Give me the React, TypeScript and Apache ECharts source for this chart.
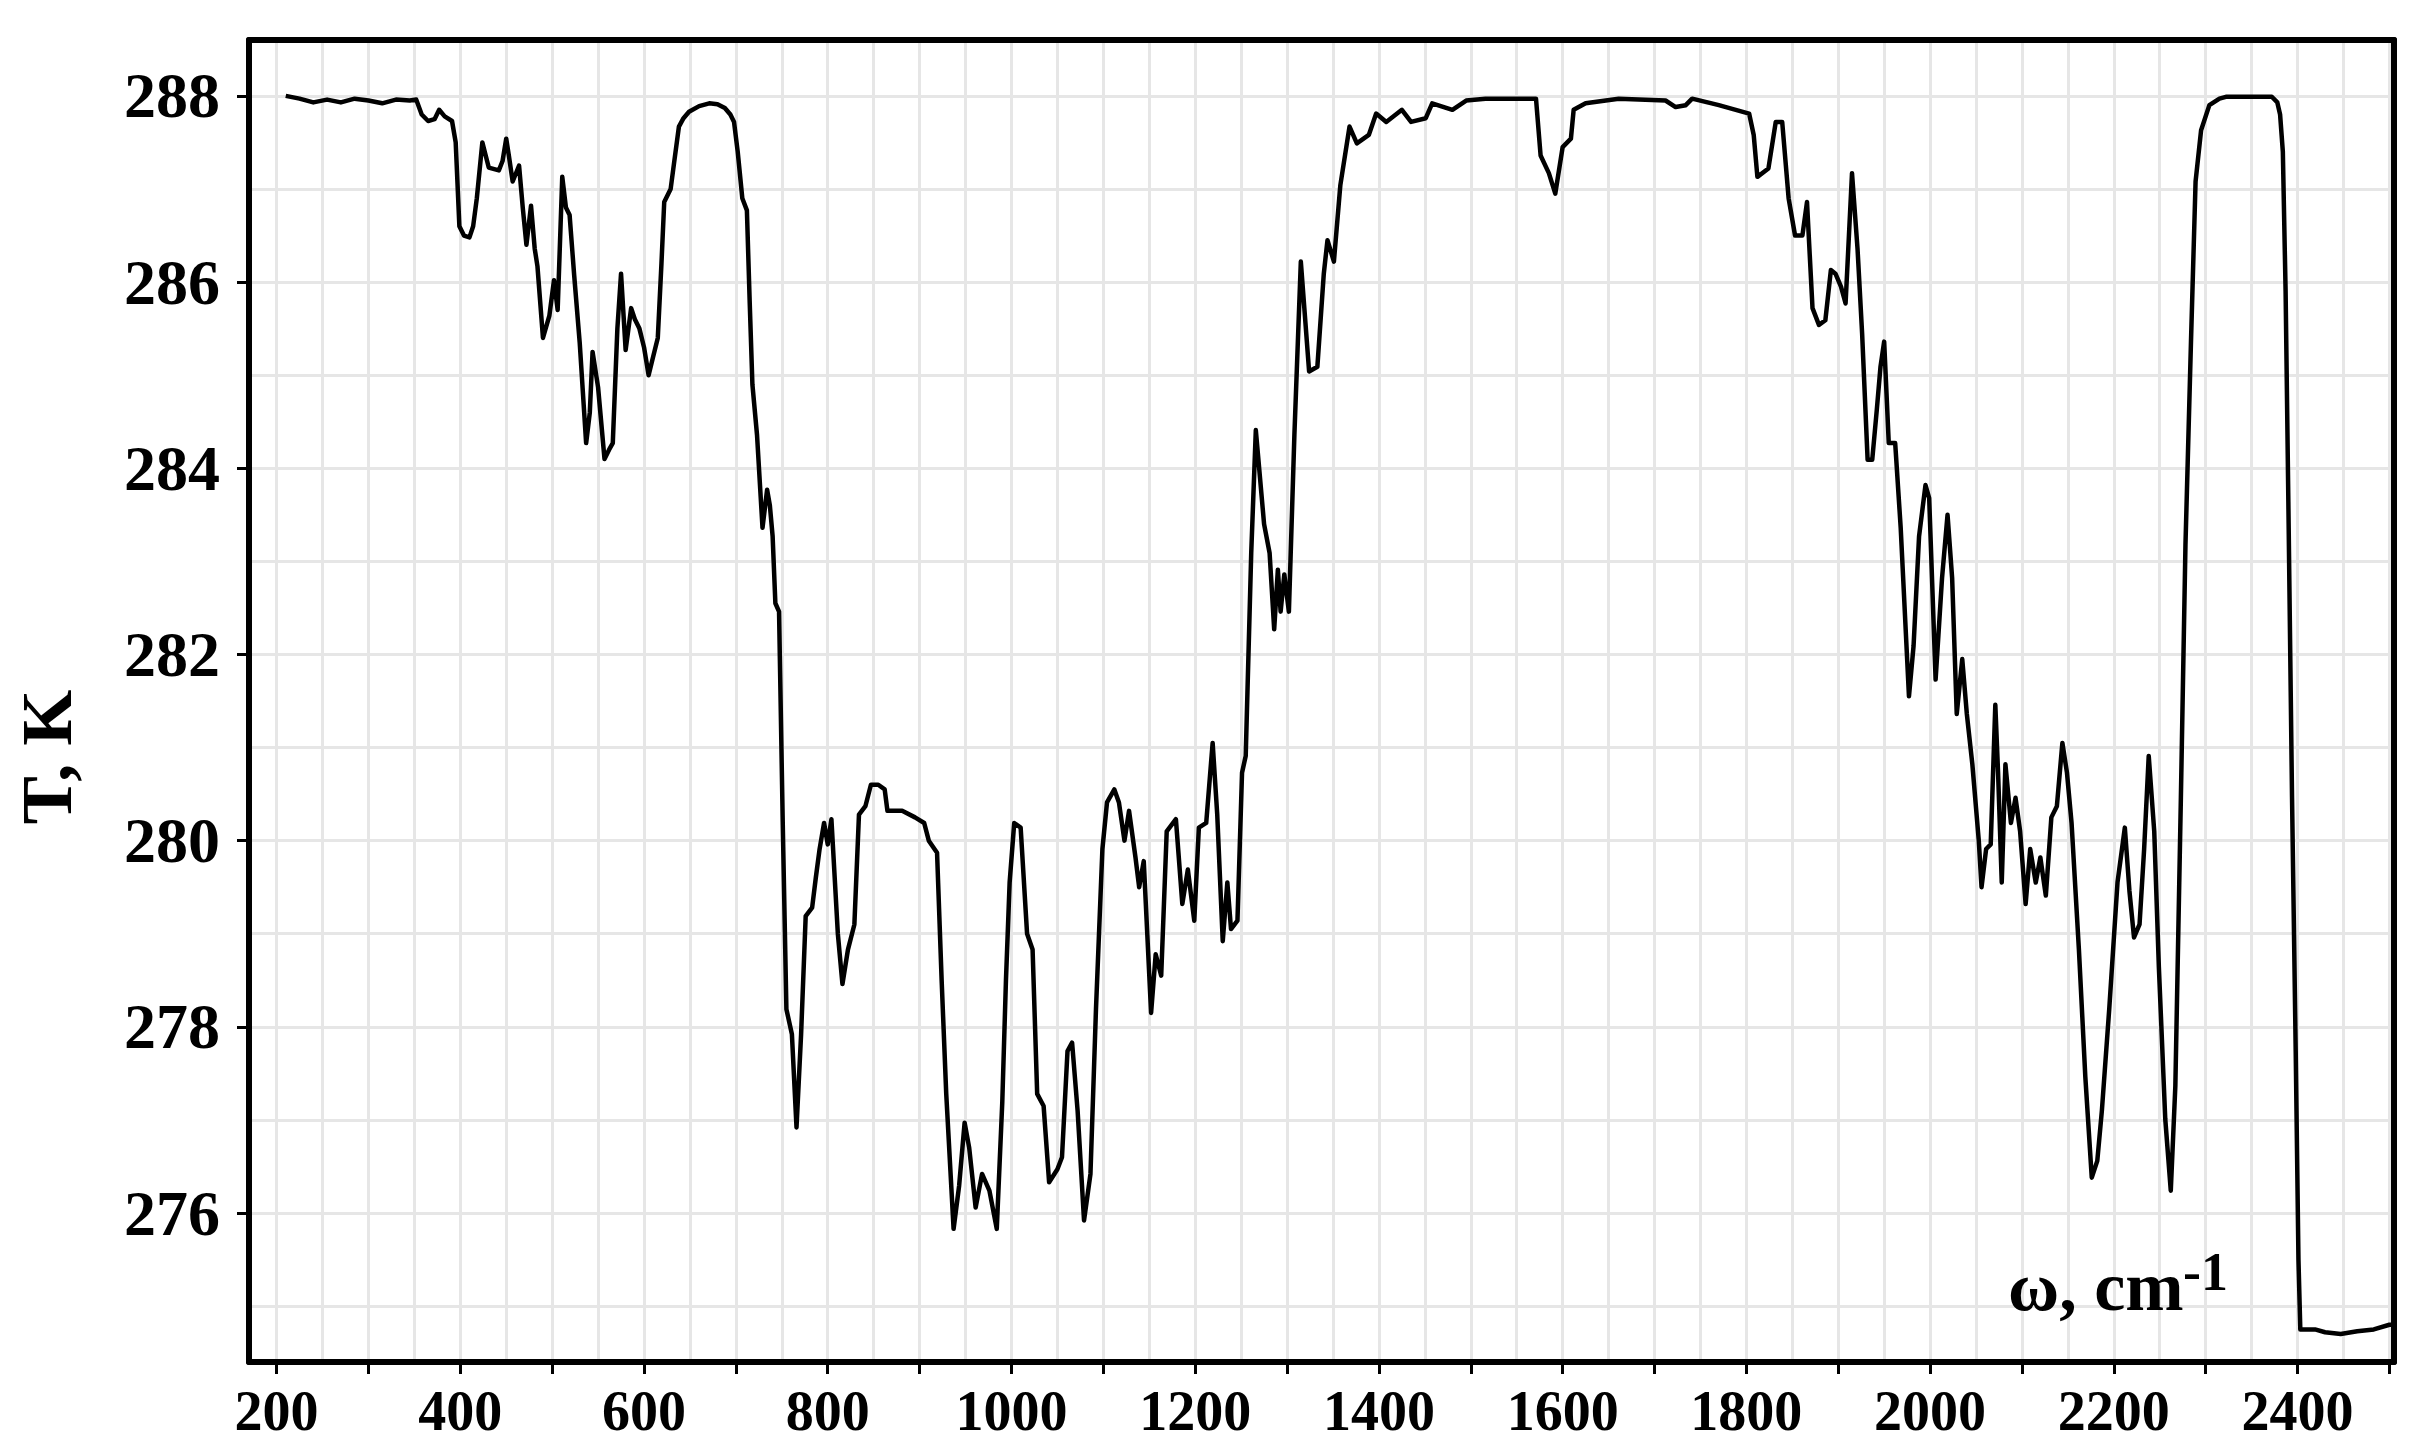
import React, { useEffect, useRef } from "react";
import * as echarts from "echarts";

// Wavenumber (cm^-1) and temperature (K), in four spectral regions
const WN_A = [210, 225, 240, 255, 270, 285, 300, 315, 330, 345, 352, 358, 365, 372, 377, 383, 391, 395, 399, 404, 410, 414, 418, 424, 431, 442, 446, 450, 453, 457, 464, 468, 472, 477, 481, 484, 490, 497, 502, 506, 511, 515, 519, 524, 530, 537, 541, 544, 550, 557, 562, 566, 571, 575, 580, 586, 590, 595, 600, 605, 610, 615, 619, 622, 629, 633, 638, 643, 649, 660, 671, 680, 688, 694, 698];
const T_A = [288.0, 287.97, 287.93, 287.96, 287.93, 287.97, 287.95, 287.92, 287.96, 287.95, 287.96, 287.8, 287.73, 287.75, 287.85, 287.78, 287.73, 287.5, 286.6, 286.5, 286.48, 286.6, 286.9, 287.5, 287.23, 287.2, 287.3, 287.54, 287.35, 287.08, 287.25, 286.8, 286.4, 286.82, 286.36, 286.17, 285.4, 285.64, 286.02, 285.7, 287.13, 286.8, 286.72, 286.07, 285.35, 284.27, 284.6, 285.25, 284.87, 284.1, 284.2, 284.27, 285.5, 286.09, 285.27, 285.72, 285.6, 285.5, 285.3, 285.0, 285.2, 285.4, 286.2, 286.86, 287.0, 287.3, 287.67, 287.76, 287.83, 287.89, 287.92, 287.91, 287.87, 287.8, 287.72];

const WN_B = [702, 707, 712, 715, 718, 723, 729, 734, 737, 740, 743, 747, 751, 755, 761, 766, 771, 776, 783, 787, 791, 796, 800, 804, 811, 816, 822, 829, 834, 841, 847, 855, 862, 865, 881, 895, 905, 910, 919, 924, 929, 937, 943, 949, 954, 961, 968, 976, 984, 990, 994, 998, 1003, 1010, 1017, 1023, 1028, 1035, 1041, 1050, 1055, 1061, 1066, 1072, 1079, 1086, 1092, 1099, 1104, 1112, 1117, 1123, 1128, 1135, 1139, 1144, 1152, 1157, 1163, 1169, 1179, 1186, 1192, 1199, 1204, 1212, 1219, 1224, 1230, 1235, 1239, 1246, 1251, 1255, 1261, 1266, 1275, 1281, 1286, 1290, 1293, 1297, 1302, 1308, 1315];
const T_B = [287.4, 286.9, 286.77, 285.8, 284.9, 284.36, 283.36, 283.77, 283.6, 283.27, 282.55, 282.46, 280.2, 278.19, 277.92, 276.92, 277.92, 279.19, 279.28, 279.6, 279.9, 280.19, 279.96, 280.23, 279.0, 278.46, 278.83, 279.1, 280.28, 280.37, 280.6, 280.6, 280.55, 280.32, 280.32, 280.25, 280.19, 280.0, 279.87, 278.5, 277.28, 275.83, 276.29, 276.97, 276.7, 276.06, 276.42, 276.24, 275.83, 277.19, 278.5, 279.55, 280.19, 280.14, 279.0, 278.83, 277.28, 277.15, 276.33, 276.47, 276.6, 277.74, 277.83, 277.1, 275.92, 276.42, 278.19, 279.91, 280.41, 280.55, 280.41, 280.0, 280.32, 279.82, 279.5, 279.78, 278.15, 278.78, 278.55, 280.1, 280.23, 279.32, 279.69, 279.14, 280.14, 280.19, 281.05, 280.28, 278.92, 279.55, 279.05, 279.14, 280.73, 280.91, 283.09, 284.41, 283.4, 283.09, 282.27, 282.91, 282.46, 282.86, 282.46, 284.36, 286.22];

const WN_C = [1324, 1333, 1340, 1344, 1351, 1358, 1368, 1376, 1389, 1397, 1408, 1425, 1435, 1451, 1458, 1480, 1495, 1516, 1571, 1576, 1585, 1592, 1600, 1609, 1612, 1625, 1661, 1712, 1723, 1734, 1741, 1770, 1803, 1808, 1812, 1824, 1832, 1839, 1846, 1853, 1861, 1866, 1872, 1879, 1886, 1892, 1897, 1903, 1908, 1915, 1921, 1926, 1932, 1937, 1942, 1946, 1950, 1955, 1962, 1968];
const T_C = [285.04, 285.09, 286.09, 286.45, 286.22, 287.04, 287.67, 287.49, 287.58, 287.81, 287.72, 287.85, 287.72, 287.76, 287.92, 287.85, 287.95, 287.97, 287.97, 287.36, 287.17, 286.95, 287.45, 287.54, 287.85, 287.92, 287.97, 287.95, 287.88, 287.9, 287.97, 287.9, 287.81, 287.58, 287.13, 287.22, 287.72, 287.72, 286.9, 286.5, 286.5, 286.86, 285.72, 285.54, 285.59, 286.13, 286.09, 285.95, 285.77, 287.17, 286.36, 285.45, 284.09, 284.09, 284.63, 285.09, 285.36, 284.27, 284.27, 283.36];

const WN_D = [1977, 1982, 1988, 1995, 1999, 2006, 2013, 2019, 2024, 2029, 2035, 2040, 2046, 2053, 2056, 2061, 2066, 2071, 2074, 2078, 2082, 2088, 2093, 2098, 2104, 2109, 2115, 2120, 2126, 2132, 2138, 2144, 2149, 2154, 2162, 2169, 2176, 2182, 2187, 2195, 2204, 2212, 2217, 2222, 2228, 2233, 2238, 2244, 2249, 2256, 2262, 2267, 2273, 2278, 2284, 2289, 2295, 2304, 2315, 2322, 2372, 2378, 2381, 2384, 2387, 2390, 2394, 2398, 2401, 2403, 2419, 2430, 2447, 2465, 2483, 2500, 2505];
const T_D = [281.55, 282.09, 283.27, 283.82, 283.68, 281.73, 282.82, 283.5, 282.82, 281.36, 281.95, 281.36, 280.82, 280.0, 279.5, 279.91, 279.96, 281.46, 280.73, 279.55, 280.82, 280.19, 280.46, 280.1, 279.32, 279.91, 279.55, 279.82, 279.41, 280.25, 280.37, 281.05, 280.73, 280.19, 278.83, 277.46, 276.38, 276.56, 277.1, 278.19, 279.55, 280.14, 279.46, 278.96, 279.1, 279.91, 280.91, 280.1, 278.65, 277.01, 276.24, 277.37, 280.46, 283.18, 285.36, 287.08, 287.63, 287.9, 287.97, 287.99, 287.99, 287.93, 287.8, 287.4, 285.9, 283.64, 280.46, 277.74, 275.5, 274.75, 274.75, 274.72, 274.7, 274.73, 274.75, 274.8, 274.8];

// Axis ticks, labels and grid positions
const X_LABELS = [200, 400, 600, 800, 1000, 1200, 1400, 1600, 1800, 2000, 2200, 2400];
const X_TICKS = [200, 300, 400, 500, 600, 700, 800, 900, 1000, 1100, 1200, 1300, 1400, 1500, 1600, 1700, 1800, 1900, 2000, 2100, 2200, 2300, 2400, 2500];
const X_GRID = [200, 250, 300, 350, 400, 450, 500, 550, 600, 650, 700, 750, 800, 850, 900, 950, 1000, 1050, 1100, 1150, 1200, 1250, 1300, 1350, 1400, 1450, 1500, 1550, 1600, 1650, 1700, 1750, 1800, 1850, 1900, 1950, 2000, 2050, 2100, 2150, 2200, 2250, 2300, 2350, 2400, 2450, 2500];
const Y_LABELS = [276, 278, 280, 282, 284, 286, 288];
const Y_GRID = [275, 276, 277, 278, 279, 280, 281, 282, 283, 284, 285, 286, 287, 288];

const X_MIN = 170;
const X_MAX = 2505;
const Y_MIN = 274.4;
const Y_MAX = 288.6;

const FONT = "'Liberation Serif', 'Times New Roman', serif";

export default function App() {
  const ref = useRef<HTMLDivElement>(null);
  useEffect(() => {
    document.body.style.margin = "0";
    const chart = echarts.init(ref.current!, null, { renderer: "svg" });
    const wn = [...WN_A, ...WN_B, ...WN_C, ...WN_D];
    const tk = [...T_A, ...T_B, ...T_C, ...T_D];
    const data = wn.map((w, i) => [w, tk[i]]);
    const gridLine = { show: true, lineStyle: { color: "#e6e6e6", width: 3 } };
    const border = { show: true, onZero: false, lineStyle: { color: "#000", width: 6 } };
    const plain = (v: number) => String(v);
    chart.setOption({
      animation: false,
      backgroundColor: "#fff",
      grid: { left: 249, right: 28, top: 40, bottom: 86, outerBoundsMode: "none", containLabel: false },
      xAxis: [
        {
          type: "value", min: X_MIN, max: X_MAX, position: "bottom",
          axisLine: border,
          axisTick: { show: true, inside: false, length: 12, customValues: X_TICKS, lineStyle: { color: "#000", width: 3 } },
          axisLabel: { customValues: X_LABELS, formatter: plain, margin: 21, color: "#000", fontFamily: FONT, fontWeight: "bold", fontSize: 56 },
          splitLine: { show: false },
        },
        {
          type: "value", min: X_MIN, max: X_MAX, position: "top",
          axisLine: border,
          axisTick: { show: false, customValues: X_GRID },
          axisLabel: { show: false },
          splitLine: gridLine,
        },
      ],
      yAxis: [
        {
          type: "value", min: Y_MIN, max: Y_MAX, position: "left",
          axisLine: border,
          axisTick: { show: true, inside: false, length: 12, customValues: Y_LABELS, lineStyle: { color: "#000", width: 3 } },
          axisLabel: { customValues: Y_LABELS, formatter: plain, margin: 29, color: "#000", fontFamily: FONT, fontWeight: "bold", fontSize: 64 },
          splitLine: { show: false },
        },
        {
          type: "value", min: Y_MIN, max: Y_MAX, position: "right",
          axisLine: border,
          axisTick: { show: false, customValues: Y_GRID },
          axisLabel: { show: false },
          splitLine: gridLine,
        },
      ],
      series: [
        {
          type: "line", xAxisIndex: 0, yAxisIndex: 0, data,
          showSymbol: false, symbol: "none", silent: true, z: 5,
          lineStyle: { color: "#000", width: 4.5, join: "round" },
        },
      ],
      graphic: [
        {
          type: "text", x: 47, y: 757, rotation: Math.PI / 2,
          style: { text: "T, K", fontFamily: FONT, fontWeight: "bold", fontSize: 72, fill: "#000", align: "center", verticalAlign: "middle", textAlign: "center", textVerticalAlign: "middle" },
        },
        {
          type: "text", x: 2008, y: 1286, z: 10,
          style: { text: "ω, cm", fontFamily: FONT, fontWeight: "bold", fontSize: 70, fill: "#000", align: "left", verticalAlign: "middle", textAlign: "left", textVerticalAlign: "middle" },
        },
        {
          type: "text", x: 2183, y: 1272, z: 10,
          style: { text: "-1", fontFamily: FONT, fontWeight: "bold", fontSize: 54, fill: "#000", align: "left", verticalAlign: "middle", textAlign: "left", textVerticalAlign: "middle" },
        },
      ],
    });
    return () => chart.dispose();
  }, []);
  return <div ref={ref} style={{ width: 2422, height: 1448, background: "#fff" }} />;
}
